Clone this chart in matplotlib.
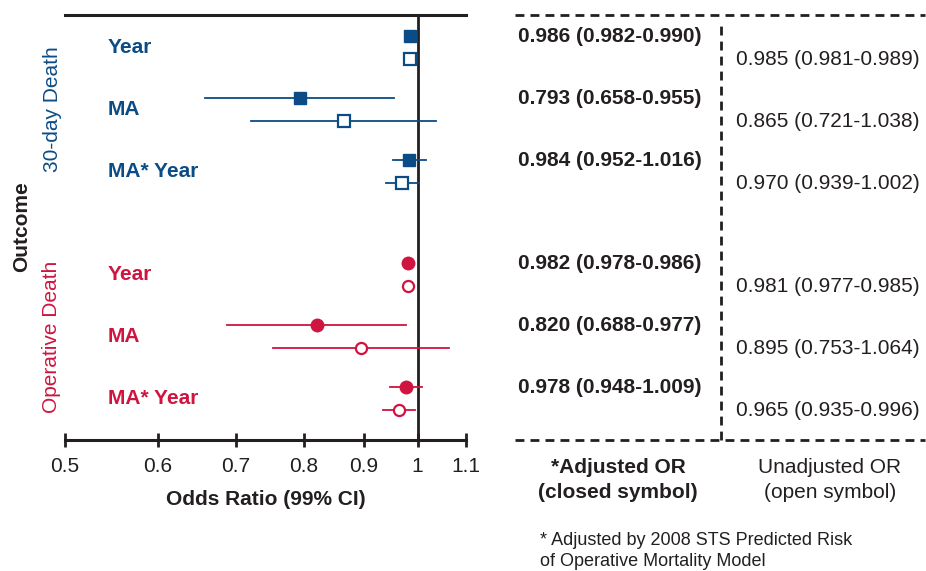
import numpy as np
import matplotlib
matplotlib.use("Agg")
import matplotlib.pyplot as plt
import matplotlib.transforms as mtransforms

plt.rcParams["font.family"] = ["Liberation Sans", "DejaVu Sans"]

# Данные (отношения шансов и 99% ДИ)
outcomes = ["30-day Death", "Operative Death"]
terms = ["Year", "MA", "MA* Year"]
adj_or = [0.986, 0.793, 0.984, 0.982, 0.820, 0.978]
adj_lo = [0.982, 0.658, 0.952, 0.978, 0.688, 0.948]
adj_hi = [0.990, 0.955, 1.016, 0.986, 0.977, 1.009]
unadj_or = [0.985, 0.865, 0.970, 0.981, 0.895, 0.965]
unadj_lo = [0.981, 0.721, 0.939, 0.977, 0.753, 0.935]
unadj_hi = [0.989, 1.038, 1.002, 0.985, 1.064, 0.996]
xticks = [0.5, 0.6, 0.7, 0.8, 0.9, 1.0, 1.1]
xtick_labels = ["0.5", "0.6", "0.7", "0.8", "0.9", "1", "1.1"]

blue = "#0b4c86"
red = "#d01440"
dark = "#231f20"

# Позиции строк
rows = np.array([0, 1, 2, 3.66, 4.66, 5.66])
off = 0.37
ylim = (6.51, -0.34)

W, H = 926, 571
fig = plt.figure(figsize=(W / 100, H / 100), dpi=100)


def box(x0, y0, x1, y1):
    return [x0 / W, 1 - y1 / H, (x1 - x0) / W, (y1 - y0) / H]


ax = fig.add_axes(box(65, 15, 466, 440))
ax.set_xscale("log")
ax.set_xlim(0.5, 1.1)
ax.set_ylim(*ylim)

for i in range(6):
    col = blue if i < 3 else red
    mk = "s" if i < 3 else "o"
    y = rows[i]
    # скорректированное (закрашенный символ)
    ax.plot([adj_lo[i], adj_hi[i]], [y, y], color=col, lw=1.3, zorder=2)
    ax.plot(adj_or[i], y, marker=mk, ms=9, color=col, mec=col, ls="none", zorder=3)
    # нескорректированное (пустой символ)
    ax.plot([unadj_lo[i], unadj_hi[i]], [y + off, y + off], color=col, lw=1.3, zorder=2)
    ax.plot(unadj_or[i], y + off, marker=mk, ms=8, mfc="white", mec=col, mew=1.6,
            ls="none", zorder=3)
    ax.text(0.107, y + off / 2, terms[i % 3], transform=ax.get_yaxis_transform(),
            color=col, fontsize=15, fontweight="bold", ha="left", va="center")

ax.axvline(1.0, color=dark, lw=2, zorder=1)

ax.set_xticks(xticks)
ax.set_xticklabels(xtick_labels)
ax.xaxis.set_minor_locator(matplotlib.ticker.NullLocator())
ax.tick_params(axis="x", direction="inout", length=10, width=2, colors=dark,
               labelsize=15, pad=7)
ax.set_yticks([])
for s in ["left", "right"]:
    ax.spines[s].set_visible(False)
ax.spines["top"].set_linewidth(2.2)
ax.spines["bottom"].set_linewidth(2.2)
ax.spines["top"].set_color(dark)
ax.spines["bottom"].set_color(dark)
ax.set_xlabel("Odds Ratio (99% CI)", fontsize=15, fontweight="bold", color=dark,
              labelpad=10)

# Подписи групп
tr = mtransforms.blended_transform_factory(fig.transFigure, ax.transData)
ax.text(52 / W, (rows[0] + rows[2] + off) / 2, outcomes[0], transform=tr,
        rotation=90, color=blue, fontsize=15, ha="center", va="center")
ax.text(52 / W, (rows[3] + rows[5] + off) / 2, outcomes[1], transform=tr,
        rotation=90, color=red, fontsize=15, ha="center", va="center")
fig.text(22 / W, 1 - 227 / H, "Outcome", rotation=90, fontsize=15,
         fontweight="bold", color=dark, ha="center", va="center")

# Таблица справа
tab = fig.add_axes(box(515, 15, 925, 440), sharey=ax)
tab.set_xlim(0, 1)
tab.axis("off")
dash = (0, (3.2, 2.2))
tab.axhline(ylim[1], color=dark, lw=2, ls=dash, clip_on=False)
tab.axhline(ylim[0], color=dark, lw=2, ls=dash, clip_on=False)
tab.plot([0.502, 0.502], [ylim[0], -0.25], color=dark, lw=2, ls=dash, clip_on=False)
for i in range(6):
    tab.text(0.007, rows[i], f"{adj_or[i]:.3f} ({adj_lo[i]:.3f}-{adj_hi[i]:.3f})",
             fontsize=15, fontweight="bold", color=dark, ha="left", va="center")
    tab.text(0.539, rows[i] + off,
             f"{unadj_or[i]:.3f} ({unadj_lo[i]:.3f}-{unadj_hi[i]:.3f})",
             fontsize=15, color=dark, ha="left", va="center")

fig.text(618 / W, 1 - 480 / H, "*Adjusted OR\n(closed symbol)", fontsize=15,
         fontweight="bold", color=dark, ha="center", va="center", linespacing=1.4)
fig.text(830 / W, 1 - 480 / H, "Unadjusted OR\n(open symbol)", fontsize=15,
         color=dark, ha="center", va="center", linespacing=1.4)
fig.text(540 / W, 1 - 551 / H,
         "* Adjusted by 2008 STS Predicted Risk\nof Operative Mortality Model",
         fontsize=13, color=dark, ha="left", va="center", linespacing=1.35)

fig.savefig("out.png", dpi=100)
